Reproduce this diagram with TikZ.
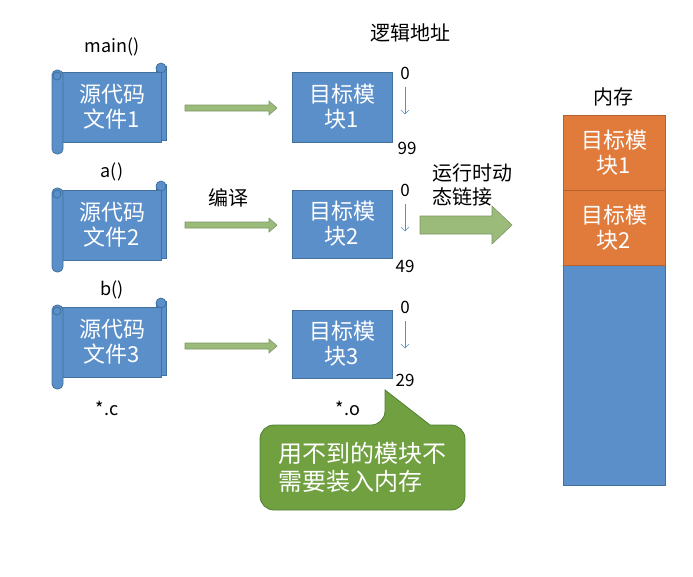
\documentclass[tikz,border=0pt]{standalone}
\usepackage{fontspec}
\setmainfont{Noto Sans CJK SC}
\usetikzlibrary{shapes.arrows,arrows.meta}
\definecolor{bl}{HTML}{5B8FC9}
\definecolor{bld}{HTML}{41719C}
\definecolor{gr}{HTML}{9BBB7A}
\definecolor{cg}{HTML}{70A040}
\definecolor{cgd}{HTML}{507E32}
\definecolor{or}{HTML}{E07B3C}
\begin{document}
\begin{tikzpicture}[x=1pt,y=-1pt,
 box/.style={fill=bl,draw=bld,line width=0.8pt,text=white,align=center,font=\fontsize{22}{25}\selectfont,inner sep=0pt},
 lbl/.style={font=\fontsize{20}{24}\selectfont,inner sep=0pt},
 sm/.style={font=\fontsize{18}{20}\selectfont,inner sep=0pt},
 num/.style={font=\fontsize{17}{18}\selectfont,inner sep=0pt},
 thin/.style={draw=gr!80!black,fill=gr,line width=0.6pt},
 darr/.style={draw=bl,-{Straight Barb[length=4pt]},line width=0.6pt}]
\useasboundingbox (0,0) rectangle (693,576);
% scrolls
\foreach \i/\y in {1/62,2/180,3/297}{
 \begin{scope}[shift={(0,\y)}]
  \path[fill=bl,draw=bld,line width=0.8pt] (156,4) rectangle (166,78);
  \path[fill=bl,draw=bld,line width=0.8pt] (161,6) circle (5);
  \path[fill=bl,draw=bld,line width=0.8pt] (58,10) rectangle (161,80);
  \path[fill=bl,draw=bld,line width=0.8pt,rounded corners=5pt] (52,8) rectangle (63,92);
  \path[fill=bl,draw=bld,line width=0.8pt] (57,14) circle (4);
  \node[box,fill=none,draw=none] (s\i) at (112,45) {源代码\\文件\i};
 \end{scope}}
\node[sm] (l1) at (112,47) {main()};
\node[sm] (l2) at (112,172) {a()};
\node[sm] (l3) at (112,290) {b()};
\node[sm] (lc) at (107,408) {*.c};
% targets
\node[box,minimum width=100pt,minimum height=70pt] (t1) at (342,107) {目标模\\块1};
\node[box,minimum width=100pt,minimum height=68pt] (t2) at (342,224) {目标模\\块2};
\node[box,minimum width=100pt,minimum height=68pt] (t3) at (342,344) {目标模\\块3};
\foreach \i/\y in {1/108,2/225,3/346}{
 \path[thin] (185,\y-3) -- (269,\y-3) -- (269,\y-7) -- (277,\y) -- (269,\y+7) -- (269,\y+3) -- (185,\y+3) -- cycle;}
\node[lbl] (by) at (228,198) {编译};
\node[sm] (lo) at (348,408) {*.o};
\node[lbl] (la) at (410,33) {逻辑地址};
% addresses
\node[num] (a0) at (405,73) {0}; \node[num] (a1) at (407,148) {99};
\node[num] (b0) at (405,190) {0}; \node[num] (b1) at (405,266) {49};
\node[num] (c0) at (405,307) {0}; \node[num] (c1) at (405,380) {29};
\draw[darr] (a0.south)++(0,8) -- +(0,27);
\draw[darr] (b0.south)++(0,8) -- +(0,27);
\draw[darr] (c0.south)++(0,8) -- +(0,27);
% big arrow
\node[lbl,align=left] (rt) at (472,185) {运行时动\\态链接};
\path[fill=gr,draw=gr!80!black,line width=0.6pt] (420,216) -- (492,216) -- (492,206) -- (512,225) -- (492,244) -- (492,234) -- (420,234) -- cycle;
% memory
\node[lbl] (nc) at (613,97) {内存};
\fill[bl,draw=bld] (563,115) rectangle (665,485);
\node[box,fill=or,draw=or!80!black,minimum width=102pt,minimum height=75pt] (m1) at (614,152.5) {目标模\\块1};
\node[box,fill=or,draw=or!80!black,minimum width=102pt,minimum height=75pt] (m2) at (614,227.5) {目标模\\块2};
% callout
\path[fill=cg,draw=cgd,line width=0.8pt,rounded corners=14pt] (260,425) -- (385,425) [sharp corners]-- (385,390) -- (430,425) [rounded corners=14pt] -- (465,425) -- (465,510) -- (260,510) -- cycle;
\node[box,fill=none,draw=none,align=left,font=\fontsize{24}{28}\selectfont] (cl) at (362,467) {用不到的模块不\\需要装入内存};
\end{tikzpicture}
\end{document}
